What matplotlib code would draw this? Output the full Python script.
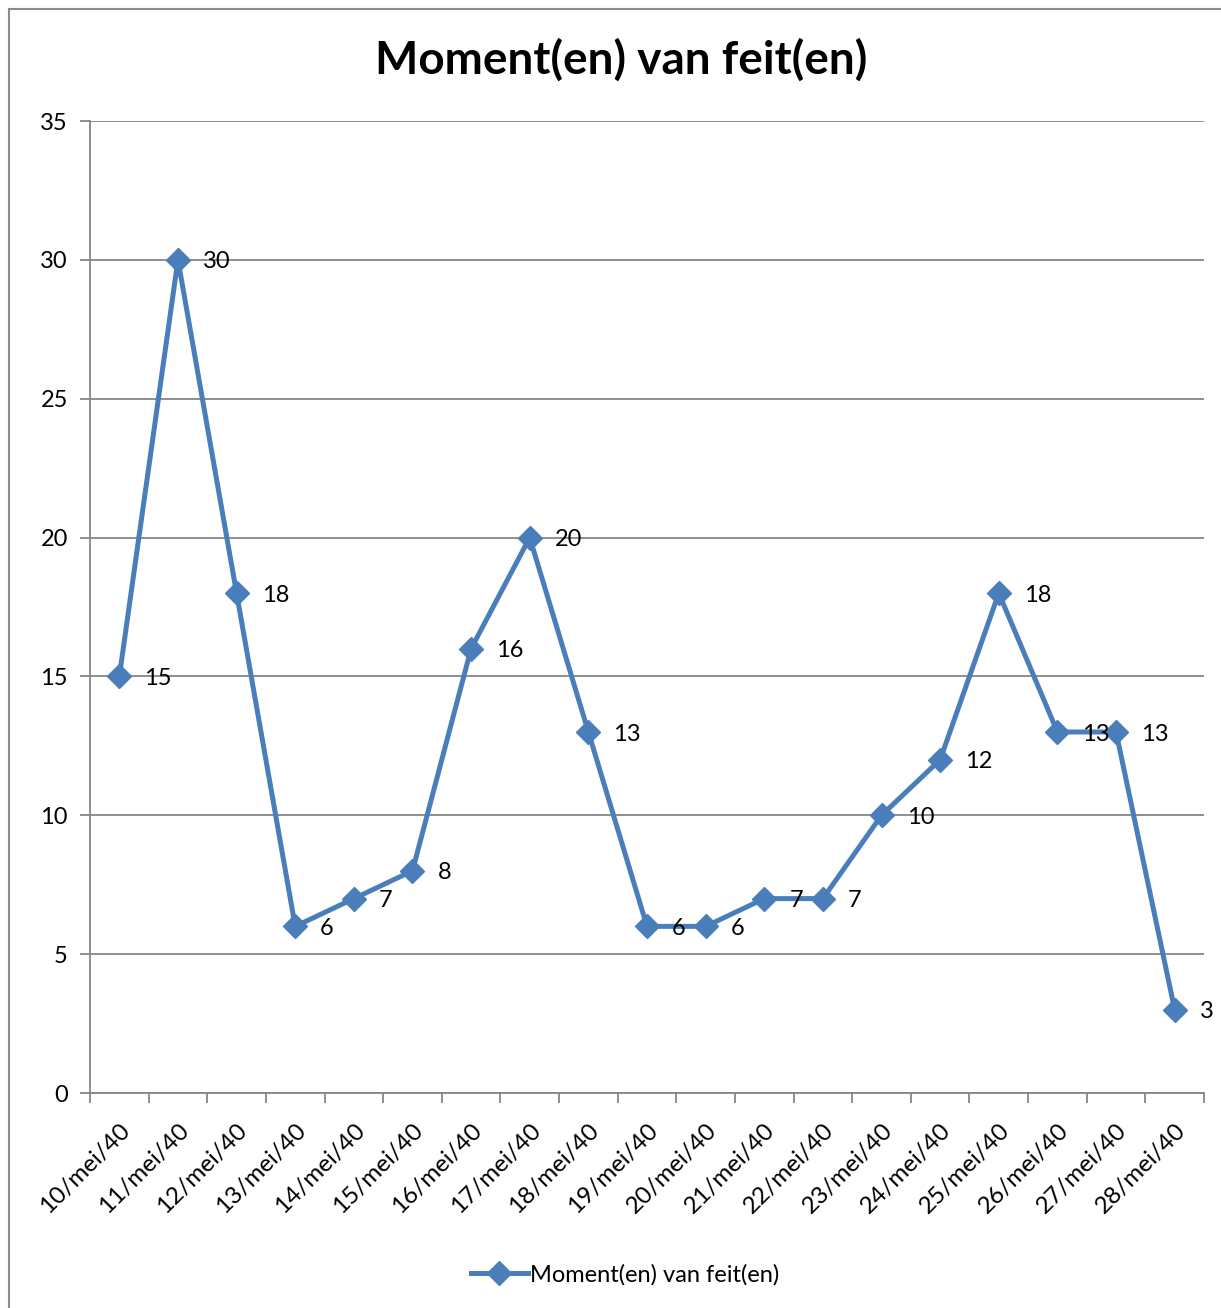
import matplotlib
matplotlib.use("Agg")
import matplotlib.pyplot as plt
from matplotlib.patches import Rectangle
from matplotlib.lines import Line2D

categories = ["10/mei/40", "11/mei/40", "12/mei/40", "13/mei/40", "14/mei/40",
              "15/mei/40", "16/mei/40", "17/mei/40", "18/mei/40", "19/mei/40",
              "20/mei/40", "21/mei/40", "22/mei/40", "23/mei/40", "24/mei/40",
              "25/mei/40", "26/mei/40", "27/mei/40", "28/mei/40"]
values = [15, 30, 18, 6, 7, 8, 16, 20, 13, 6, 6, 7, 7, 10, 12, 18, 13, 13, 3]
yticks = [0, 5, 10, 15, 20, 25, 30, 35]
series_name = "Moment(en) van feit(en)"
title = "Moment(en) van feit(en)"

plt.rcParams['font.family'] = ['Lato', 'DejaVu Sans']

W, H = 1221, 1308
fig = plt.figure(figsize=(W / 100, H / 100), dpi=100)

# outer chart border
fig.patches.append(Rectangle((9 / W, -0.01), 1.1, (H - 9) / H + 0.01, transform=fig.transFigure,
                             fill=False, edgecolor='#8c8c8c', linewidth=1.5))

left, right, top, bottom = 90, 1204, 121, 1093
ax = fig.add_axes([left / W, 1 - bottom / H, (right - left) / W, (bottom - top) / H])

blue = '#4A7EBB'
gray = '#868686'
fs = 17
x = list(range(len(values)))
ax.plot(x, values, color=blue, linewidth=3.6, marker='D', markersize=12,
        markerfacecolor=blue, markeredgecolor=blue, zorder=3, clip_on=False)

for xi, v in zip(x, values):
    ax.annotate(str(v), (xi, v), xytext=(18, -1.5), textcoords='offset points',
                ha='left', va='center', fontsize=fs, color='black', zorder=4)

ax.set_xlim(-0.5, len(values) - 0.5)
ax.set_ylim(0, 35)
ax.set_yticks(yticks)
ax.set_yticklabels([str(t) for t in yticks], fontsize=fs)
ax.yaxis.grid(True, color=gray, linewidth=1.3)
ax.set_axisbelow(True)

# x ticks at category boundaries, labels at centers
ax.set_xticks([i - 0.5 for i in range(len(values) + 1)])
ax.set_xticklabels([])
ax.set_xticks(x, minor=True)
ax.set_xticklabels(categories, minor=True, rotation=45, ha='right', va='top',
                   rotation_mode='anchor', fontsize=17.5)
ax.tick_params(axis='x', which='major', length=7, width=1.3, color=gray, direction='out')
ax.tick_params(axis='x', which='minor', length=0, pad=19)
ax.tick_params(axis='y', length=7, width=1.3, color=gray, pad=9)

for s in ['top', 'right']:
    ax.spines[s].set_visible(False)
for s in ['left', 'bottom']:
    ax.spines[s].set_color(gray)
    ax.spines[s].set_linewidth(1.3)

fig.text(621 / W, 1 - 60 / H, title, ha='center', va='center', fontsize=33,
         fontweight='bold')

handle = Line2D([], [], color=blue, linewidth=3.6, marker='D', markersize=12,
                markerfacecolor=blue, markeredgecolor=blue)
fig.legend([handle], [series_name], loc='center', bbox_to_anchor=(625 / W, 1 - 1275 / H),
           frameon=False, fontsize=fs, handlelength=2.4, handletextpad=0.1)

fig.savefig("out.png", dpi=100)
